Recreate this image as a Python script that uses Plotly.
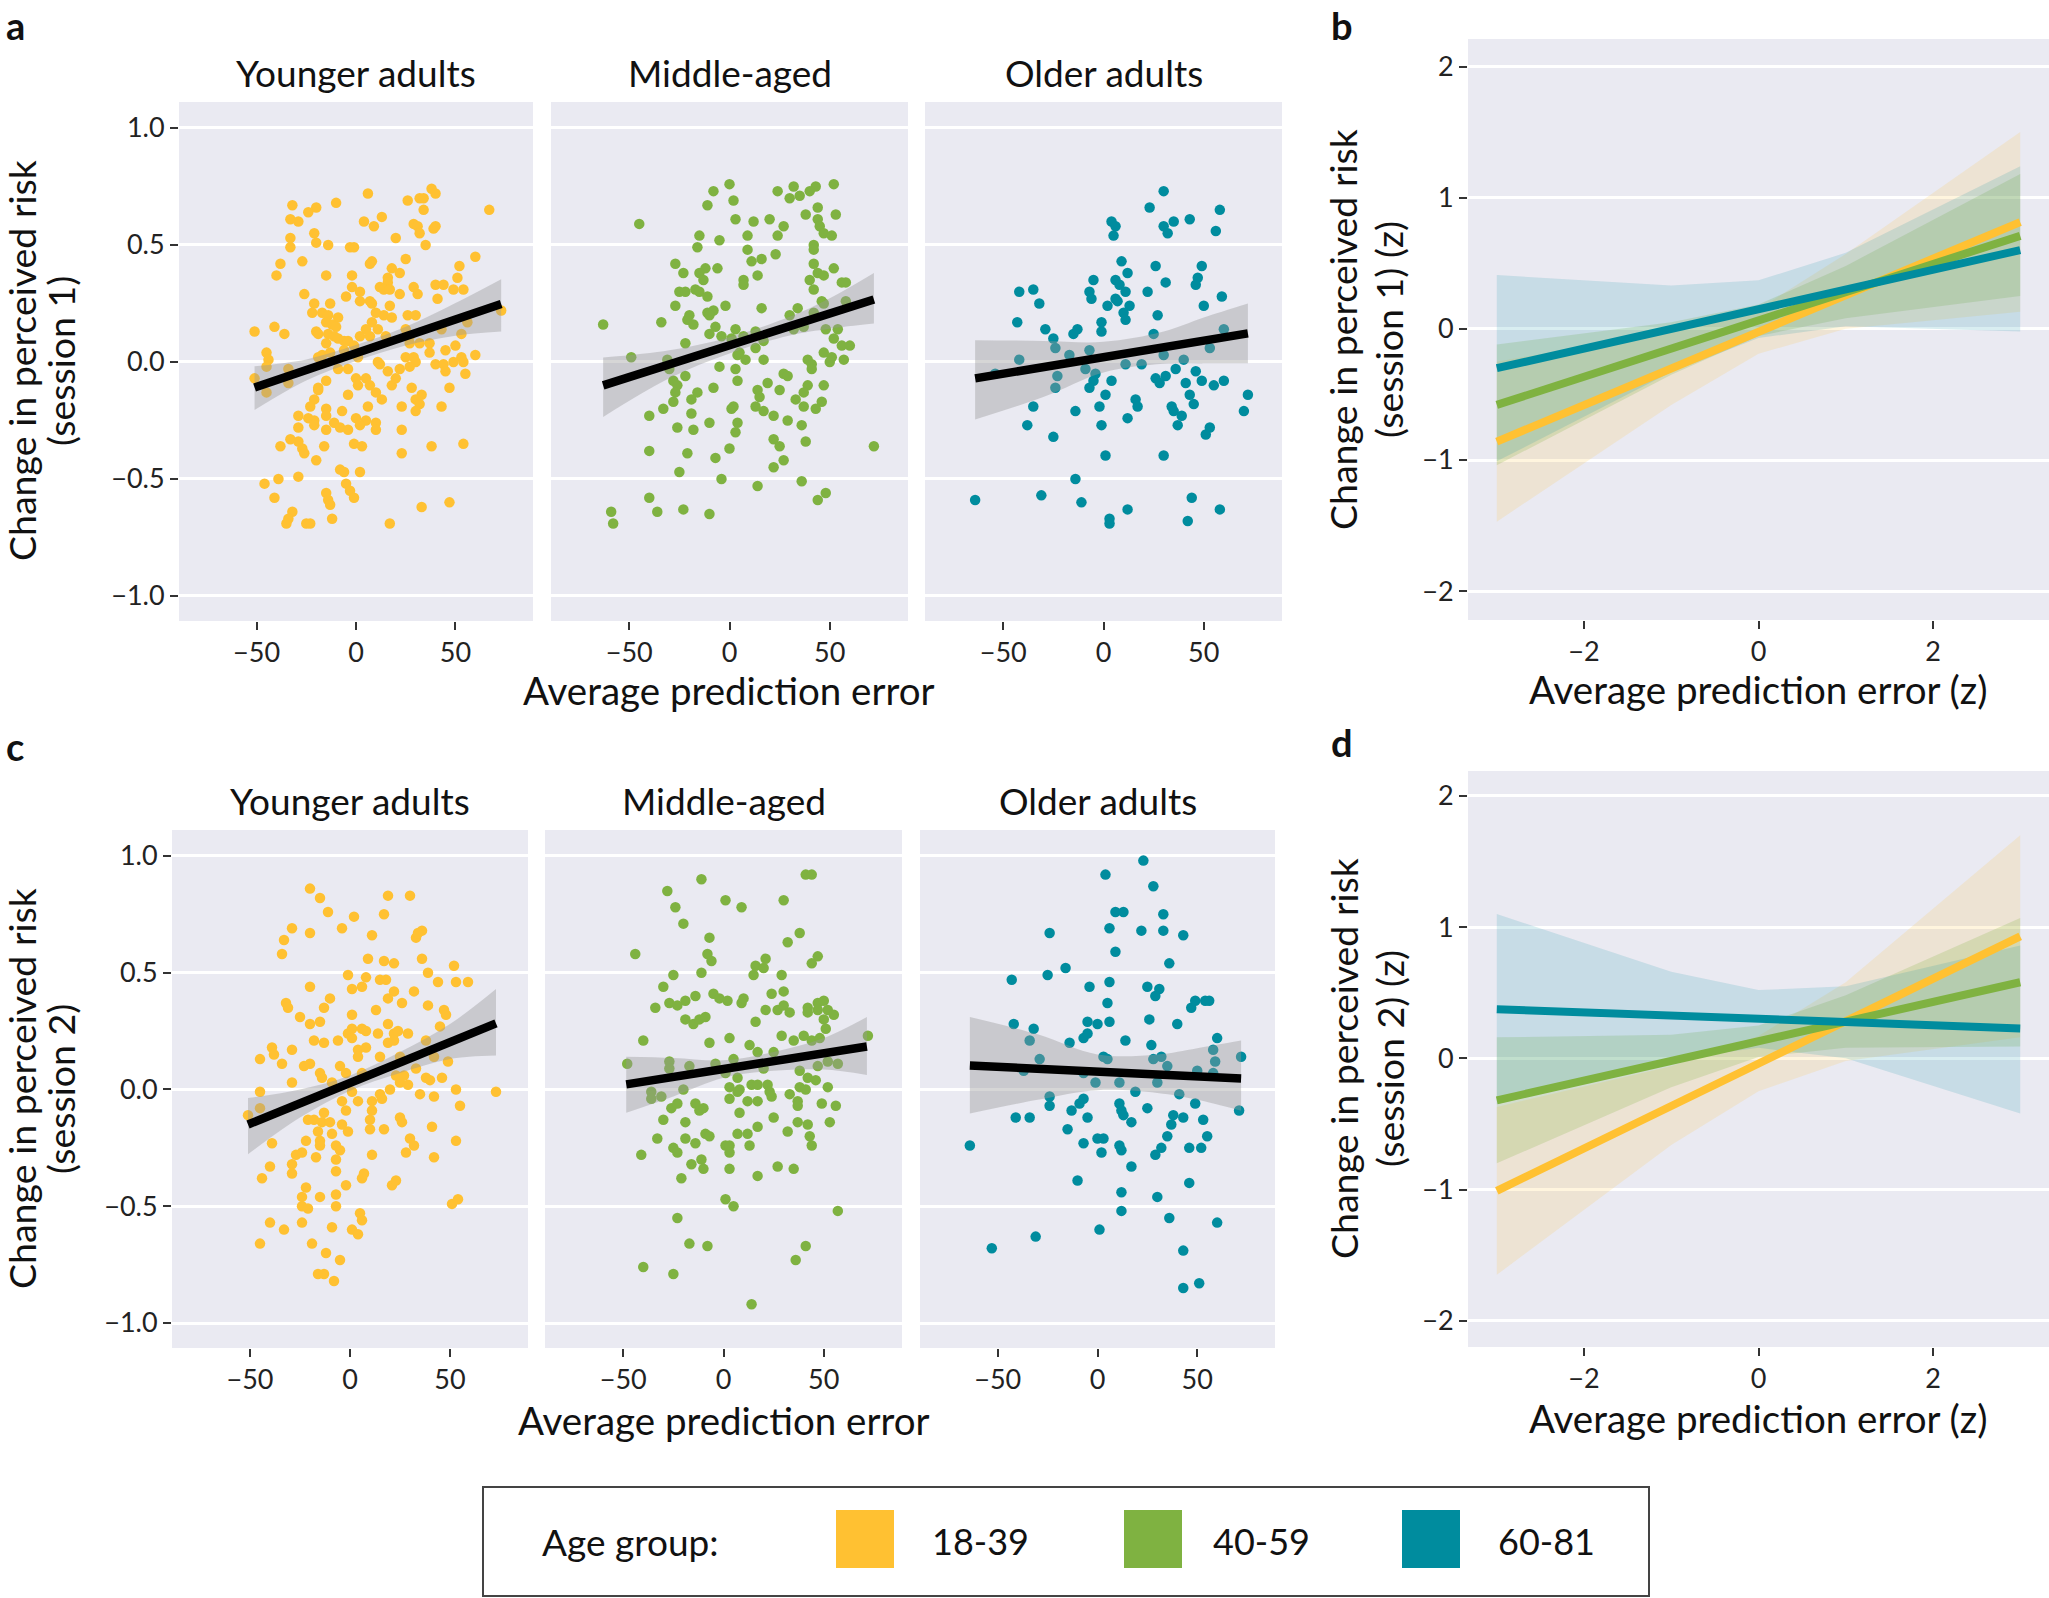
import plotly.graph_objects as go

FONT = "Lato, 'Open Sans', sans-serif"
YELLOW = "#FFC132"
GREEN = "#7FB241"
TEAL = "#008C9E"
BG = "#EAEAF2"
W, H = 2049, 1598

# ---------------- data ----------------
age_groups = ["18-39", "40-59", "60-81"]
panel_titles = ["Younger adults", "Middle-aged", "Older adults"]
pe_ticks = [-50, 0, 50]
risk_ticks = [-1.0, -0.5, 0.0, 0.5, 1.0]
z_ticks = [-2, 0, 2]
zy_ticks = [-2, -1, 0, 1, 2]

# session 1, younger adults (average prediction error, change in perceived risk)
s1_young_pts = [(38,0.74),(40,0.72),(6,0.72),(32,0.70),(34,0.70),(26,0.69),(-10,0.68),(-32,0.67),(-20,0.66),(-24,0.64),
    (67,0.65),(34,0.65),(13,0.62),(4,0.60),(-33,0.61),(-29,0.60),(9,0.58),(29,0.59),(31,0.58),(40,0.58),
    (39,0.57),(32,0.55),(-21,0.55),(20,0.53),(-33,0.53),(-20,0.51),(-33,0.49),(-14,0.50),(-3,0.49),(-1,0.49),
    (35,0.50),(60,0.45),(25,0.44),(-38,0.42),(-27,0.43),(8,0.43),(7,0.42),(52,0.41),(18,0.40),(22,0.38),
    (-40,0.37),(-15,0.37),(-2,0.37),(51,0.36),(16,0.36),(16,0.34),(-2,0.32),(12,0.32),(29,0.32),(14,0.31),
    (17,0.31),(40,0.33),(44,0.33),(49,0.31),(54,0.31),(-26,0.29),(2,0.30),(-5,0.28),(22,0.29),(31,0.29),
    (41,0.27),(-21,0.25),(-13,0.25),(2,0.26),(7,0.26),(8,0.25),(17,0.24),(-22,0.21),(-17,0.21),(-14,0.20),
    (-9,0.19),(10,0.21),(14,0.20),(18,0.19),(26,0.20),(30,0.20),(8,0.17),(-15,0.17),(-12,0.16),(-10,0.15),
    (5,0.14),(11,0.14),(25,0.14),(-51,0.13),(-41,0.15),(-36,0.12),(-20,0.13),(-19,0.12),(-14,0.12),(-11,0.11),
    (-9,0.10),(-6,0.09),(2,0.11),(7,0.11),(15,0.11),(27,0.11),(56,0.17),(53,0.12),(43,0.14),(-15,0.08),
    (-4,0.09),(-1,0.07),(27,0.08),(32,0.08),(37,0.08),(50,0.07),(45,0.05),(-45,0.04),(-44,0.01),(-19,0.02),
    (-17,0.03),(-13,0.04),(-6,0.05),(1,0.02),(11,0.00),(25,0.02),(29,0.02),(30,0.00),(37,0.04),(53,0.02),
    (60,0.03),(49,0.00),(54,0.00),(-45,-0.02),(-34,-0.03),(-9,-0.03),(-4,-0.03),(12,-0.01),(22,-0.03),(27,-0.02),
    (40,-0.01),(44,-0.01),(45,-0.04),(55,-0.05),(-51,-0.07),(-34,-0.09),(-15,-0.08),(-19,-0.11),(0,-0.07),(5,-0.07),
    (16,-0.04),(18,-0.10),(20,-0.07),(-45,-0.13),(-19,-0.12),(1,-0.10),(7,-0.10),(10,-0.13),(28,-0.11),(33,-0.14),
    (47,-0.11),(-4,-0.14),(13,-0.16),(-21,-0.16),(-23,-0.19),(6,-0.19),(23,-0.19),(30,-0.16),(32,-0.18),(43,-0.19),
    (-15,-0.20),(-7,-0.21),(-15,-0.23),(30,-0.21),(-29,-0.23),(-24,-0.24),(-21,-0.25),(0,-0.24),(5,-0.25),(10,-0.26),
    (-29,-0.28),(-21,-0.27),(-15,-0.29),(-11,-0.26),(-8,-0.28),(-4,-0.29),(2,-0.27),(10,-0.29),(23,-0.29),(-33,-0.33),
    (-29,-0.34),(-38,-0.36),(-27,-0.37),(-26,-0.39),(-16,-0.36),(-1,-0.35),(3,-0.36),(38,-0.36),(54,-0.35),(23,-0.39),
    (-20,-0.42),(-8,-0.46),(-6,-0.47),(2,-0.47),(-39,-0.50),(-29,-0.49),(-46,-0.52),(-5,-0.52),(-3,-0.55),(-1,-0.58),
    (-15,-0.56),(-14,-0.59),(-13,-0.61),(-41,-0.58),(33,-0.62),(47,-0.60),(-32,-0.64),(-34,-0.67),(-35,-0.69),(-25,-0.69),
    (-23,-0.69),(-12,-0.67),(17,-0.69),(73,0.22)]

s1_middle_pts = [(0,0.76),(52,0.76),(-8,0.73),(2,0.69),(32,0.75),(43,0.75),(40,0.73),(24,0.73),(30,0.70),(35,0.71),
    (-11,0.67),(-45,0.59),(44,0.66),(38,0.63),(53,0.63),(3,0.61),(12,0.60),(20,0.61),(44,0.61),(45,0.58),
    (27,0.58),(47,0.55),(51,0.54),(24,0.54),(9,0.54),(-15,0.54),(-5,0.52),(-16,0.49),(42,0.50),(42,0.48),
    (9,0.48),(23,0.46),(11,0.43),(16,0.44),(-27,0.42),(42,0.42),(52,0.40),(-12,0.40),(-6,0.40),(-15,0.38),
    (-23,0.38),(44,0.38),(47,0.37),(14,0.37),(-13,0.35),(7,0.35),(7,0.33),(40,0.35),(56,0.34),(58,0.34),
    (-25,0.30),(-22,0.30),(-17,0.31),(-15,0.30),(-11,0.28),(42,0.31),(-27,0.24),(-2,0.24),(16,0.23),(34,0.23),
    (46,0.26),(47,0.25),(58,0.26),(-63,0.16),(-34,0.17),(-20,0.20),(-21,0.18),(-18,0.16),(-11,0.21),(-8,0.22),
    (-10,0.20),(-7,0.15),(-10,0.12),(-4,0.11),(3,0.14),(13,0.13),(30,0.20),(32,0.14),(37,0.15),(42,0.21),
    (48,0.14),(54,0.14),(52,0.10),(-22,0.08),(17,0.09),(13,0.06),(56,0.07),(60,0.07),(-49,0.02),(-31,0.01),
    (4,0.03),(8,0.01),(17,0.01),(39,0.01),(41,-0.01),(47,0.04),(51,0.02),(57,0.01),(50,0.00),(-30,-0.03),
    (-5,-0.02),(3,-0.03),(41,-0.03),(-22,-0.06),(-28,-0.08),(-26,-0.10),(4,-0.08),(19,-0.09),(27,-0.05),(29,-0.06),
    (39,-0.10),(47,-0.10),(-27,-0.13),(-8,-0.11),(-16,-0.13),(14,-0.12),(25,-0.12),(37,-0.13),(-28,-0.17),(-19,-0.16),
    (15,-0.15),(33,-0.16),(46,-0.17),(37,-0.19),(-40,-0.23),(-33,-0.20),(-19,-0.22),(1,-0.20),(2,-0.19),(13,-0.19),
    (17,-0.21),(22,-0.23),(43,-0.20),(-26,-0.28),(-18,-0.29),(-10,-0.26),(4,-0.26),(3,-0.30),(29,-0.25),(36,-0.27),
    (-40,-0.38),(-21,-0.39),(-7,-0.41),(0,-0.37),(22,-0.33),(25,-0.36),(38,-0.34),(72,-0.36),(-25,-0.47),(-4,-0.50),
    (27,-0.42),(22,-0.45),(14,-0.53),(36,-0.51),(-40,-0.58),(44,-0.59),(48,-0.56),(-59,-0.64),(-36,-0.64),(-23,-0.63),
    (-10,-0.65),(-58,-0.69),(5,0.04),(7,0.11),(1,0.10)]

s1_older_pts = [(30,0.73),(23,0.66),(58,0.65),(4,0.60),(6,0.58),(5,0.54),(30,0.58),(35,0.60),(32,0.55),(43,0.61),
    (56,0.56),(9,0.43),(12,0.38),(26,0.41),(49,0.41),(-5,0.35),(6,0.35),(8,0.33),(31,0.34),(47,0.36),
    (46,0.33),(-42,0.30),(-35,0.31),(-7,0.30),(-6,0.27),(11,0.30),(22,0.30),(6,0.27),(7,0.26),(2,0.24),
    (13,0.24),(10,0.21),(11,0.18),(59,0.28),(50,0.24),(-32,0.25),(27,0.20),(-43,0.17),(-29,0.14),(-25,0.10),
    (-24,0.06),(-13,0.14),(-15,0.12),(-1,0.17),(-1,0.13),(25,0.12),(60,0.14),(53,0.06),(-17,0.03),(-7,0.05),
    (-42,0.01),(-54,-0.05),(30,0.03),(40,0.01),(19,-0.01),(11,-0.01),(-9,-0.03),(-23,-0.06),(-24,-0.11),(-4,-0.05),
    (-5,-0.08),(-7,-0.11),(4,-0.08),(36,-0.03),(46,-0.04),(26,-0.07),(28,-0.09),(31,-0.06),(41,-0.09),(49,-0.08),
    (55,-0.10),(60,-0.08),(72,-0.14),(1,-0.14),(16,-0.16),(17,-0.19),(43,-0.14),(45,-0.18),(-35,-0.19),(-2,-0.19),
    (-14,-0.21),(34,-0.19),(35,-0.21),(39,-0.23),(70,-0.21),(12,-0.24),(-38,-0.27),(-1,-0.27),(37,-0.27),(53,-0.28),
    (51,-0.31),(-25,-0.32),(1,-0.40),(30,-0.40),(-14,-0.50),(-64,-0.59),(-31,-0.57),(-11,-0.60),(12,-0.63),(44,-0.58),
    (58,-0.63),(3,-0.67),(3,-0.69),(42,-0.68)]

s2_young_pts = [(-20,0.86),(-15,0.82),(19,0.83),(30,0.83),(-11,0.76),(2,0.74),(17,0.75),(-29,0.69),(-20,0.67),(-4,0.69),
    (11,0.66),(33,0.65),(36,0.68),(34,0.67),(-33,0.64),(-34,0.58),(9,0.56),(17,0.55),(22,0.54),(36,0.56),
    (52,0.53),(39,0.50),(-1,0.49),(8,0.48),(15,0.47),(18,0.47),(44,0.46),(53,0.46),(59,0.46),(-20,0.44),
    (1,0.43),(6,0.44),(22,0.42),(19,0.39),(32,0.42),(-10,0.39),(-32,0.37),(-31,0.35),(-13,0.35),(26,0.37),
    (39,0.36),(47,0.34),(48,0.32),(13,0.34),(1,0.32),(-25,0.31),(-20,0.28),(-15,0.29),(19,0.28),(45,0.27),
    (-1,0.24),(1,0.26),(1,0.22),(6,0.26),(8,0.25),(14,0.24),(22,0.24),(24,0.25),(29,0.24),(-18,0.21),
    (-13,0.20),(-6,0.21),(19,0.20),(22,0.21),(38,0.21),(-39,0.18),(-29,0.17),(4,0.17),(8,0.18),(-38,0.15),
    (4,0.14),(15,0.14),(-45,0.13),(-34,0.11),(-23,0.10),(-20,0.11),(-5,0.10),(25,0.14),(42,0.14),(49,0.12),
    (-15,0.07),(-14,0.05),(-2,0.07),(6,0.07),(23,0.06),(27,0.06),(33,0.09),(25,0.03),(29,0.02),(38,0.05),
    (40,0.04),(46,0.05),(-29,0.03),(-9,0.03),(-45,-0.01),(1,-0.01),(53,0.00),(73,-0.01),(20,0.00),(15,-0.02),
    (16,-0.04),(35,-0.02),(42,-0.03),(-45,-0.08),(-51,-0.11),(-4,-0.05),(4,-0.05),(11,-0.05),(-2,-0.09),(11,-0.09),
    (-13,-0.10),(55,-0.07),(-21,-0.13),(-18,-0.13),(10,-0.13),(25,-0.12),(26,-0.14),(-14,-0.14),(-10,-0.14),(-4,-0.15),
    (-1,-0.18),(10,-0.17),(17,-0.17),(41,-0.16),(-16,-0.18),(-9,-0.19),(-39,-0.23),(-22,-0.22),(-15,-0.22),(-15,-0.24),
    (-7,-0.24),(-5,-0.26),(30,-0.21),(32,-0.24),(53,-0.22),(-27,-0.28),(-24,-0.27),(-17,-0.29),(11,-0.28),(28,-0.27),
    (42,-0.29),(-29,-0.32),(-40,-0.33),(-7,-0.30),(-29,-0.36),(-44,-0.38),(-7,-0.35),(6,-0.38),(7,-0.36),(-2,-0.41),
    (-22,-0.42),(21,-0.41),(23,-0.39),(-24,-0.46),(-15,-0.46),(-7,-0.45),(-24,-0.50),(-21,-0.51),(-7,-0.50),(51,-0.49),
    (54,-0.47),(5,-0.53),(6,-0.56),(-40,-0.57),(-33,-0.60),(-24,-0.57),(-9,-0.59),(1,-0.60),(4,-0.62),(-45,-0.66),
    (-19,-0.66),(-12,-0.70),(-5,-0.73),(-16,-0.79),(-13,-0.79),(-8,-0.82)]

s2_middle_pts = [(-11,0.90),(41,0.92),(44,0.92),(-28,0.85),(1,0.81),(9,0.78),(30,0.81),(-24,0.78),(-20,0.71),(-7,0.65),
    (32,0.63),(38,0.67),(-44,0.58),(-8,0.58),(-6,0.55),(21,0.56),(16,0.53),(20,0.52),(47,0.57),(44,0.54),
    (-25,0.49),(-11,0.50),(15,0.49),(29,0.49),(-30,0.44),(24,0.41),(30,0.42),(-14,0.40),(-19,0.38),(-5,0.41),
    (-2,0.39),(2,0.38),(9,0.37),(10,0.39),(-34,0.35),(-27,0.37),(-23,0.36),(21,0.34),(27,0.34),(30,0.36),
    (33,0.33),(42,0.35),(42,0.33),(47,0.37),(50,0.38),(47,0.34),(52,0.34),(55,0.32),(-19,0.30),(-15,0.28),
    (-12,0.30),(-9,0.31),(16,0.29),(50,0.30),(51,0.26),(-40,0.21),(-7,0.20),(3,0.22),(13,0.19),(29,0.23),
    (35,0.21),(40,0.23),(44,0.21),(48,0.22),(72,0.23),(17,0.16),(25,0.16),(-48,0.11),(-27,0.12),(-27,0.09),
    (-17,0.10),(-4,0.11),(5,0.13),(20,0.09),(47,0.10),(52,0.12),(57,0.11),(38,0.08),(1,0.07),(7,0.05),
    (42,0.05),(46,0.04),(-36,-0.01),(-36,-0.04),(-31,-0.03),(-20,0.00),(3,0.01),(8,0.00),(14,0.02),(17,0.02),
    (22,0.02),(23,-0.01),(24,-0.03),(7,-0.01),(38,0.01),(41,0.00),(52,0.01),(33,-0.02),(3,-0.04),(12,-0.05),
    (17,-0.05),(37,-0.05),(37,-0.07),(49,-0.06),(56,-0.07),(-26,-0.08),(-23,-0.06),(-14,-0.06),(-12,-0.09),(-10,-0.08),
    (8,-0.10),(25,-0.12),(-30,-0.13),(-19,-0.14),(37,-0.14),(42,-0.15),(53,-0.14),(17,-0.16),(32,-0.18),(7,-0.19),
    (12,-0.19),(-33,-0.21),(-19,-0.21),(-14,-0.23),(-9,-0.19),(-7,-0.20),(43,-0.20),(44,-0.24),(1,-0.24),(3,-0.24),
    (13,-0.24),(-25,-0.25),(-23,-0.27),(3,-0.27),(-41,-0.28),(-11,-0.30),(-16,-0.32),(-10,-0.34),(3,-0.34),(17,-0.37),
    (27,-0.33),(35,-0.34),(-21,-0.38),(1,-0.47),(5,-0.50),(57,-0.52),(-23,-0.55),(-17,-0.66),(-8,-0.67),(41,-0.67),
    (36,-0.73),(-40,-0.76),(-25,-0.79),(14,-0.92)]

s2_older_pts = [(23,0.98),(4,0.92),(28,0.87),(9,0.76),(13,0.76),(33,0.75),(-24,0.67),(6,0.69),(22,0.68),(33,0.68),
    (43,0.66),(9,0.59),(36,0.54),(-16,0.52),(-43,0.47),(-25,0.49),(6,0.46),(-4,0.44),(25,0.44),(31,0.43),
    (29,0.40),(5,0.37),(47,0.35),(49,0.38),(54,0.38),(56,0.38),(-42,0.28),(-32,0.26),(-5,0.29),(0,0.28),
    (6,0.29),(26,0.30),(40,0.28),(-34,0.21),(-14,0.20),(-7,0.22),(-5,0.24),(14,0.21),(27,0.19),(60,0.22),
    (-29,0.13),(3,0.14),(5,0.13),(28,0.13),(32,0.14),(58,0.17),(59,0.12),(72,0.14),(35,0.10),(-37,0.08),
    (-7,0.07),(50,0.08),(58,0.07),(-1,0.03),(11,0.03),(30,0.03),(19,-0.01),(41,-0.02),(-24,-0.03),(-24,-0.07),
    (-9,-0.06),(-7,-0.04),(-13,-0.09),(11,-0.06),(12,-0.09),(13,-0.11),(25,-0.08),(49,-0.06),(71,-0.09),(-41,-0.12),
    (-34,-0.12),(-5,-0.12),(17,-0.14),(38,-0.11),(43,-0.12),(53,-0.13),(37,-0.15),(-15,-0.17),(55,-0.20),(35,-0.20),
    (-64,-0.24),(-7,-0.23),(0,-0.21),(3,-0.21),(2,-0.27),(11,-0.24),(12,-0.26),(32,-0.25),(29,-0.28),(46,-0.25),
    (52,-0.25),(17,-0.33),(-10,-0.39),(46,-0.40),(12,-0.44),(30,-0.46),(12,-0.52),(36,-0.55),(60,-0.57),(1,-0.60),
    (-31,-0.63),(-53,-0.68),(43,-0.69),(43,-0.85),(51,-0.83)]

# linear fits (end points) and 95% CI ribbons
s1_young_fit_x, s1_young_fit_y = [-51, 73], [-0.109, 0.248]
s1_young_band_x = [-51, -25, 0, 25, 50, 73]
s1_young_band_lo = [-0.205, -0.079, 0.004, 0.070, 0.112, 0.130]
s1_young_band_hi = [-0.018, 0.011, 0.072, 0.150, 0.252, 0.354]

s1_middle_fit_x, s1_middle_fit_y = [-63, 72], [-0.100, 0.267]
s1_middle_band_x = [-63, -30, 0, 30, 50, 72]
s1_middle_band_lo = [-0.235, -0.070, 0.036, 0.113, 0.142, 0.164]
s1_middle_band_hi = [0.019, 0.050, 0.106, 0.193, 0.272, 0.380]

s1_older_fit_x, s1_older_fit_y = [-64, 72], [-0.070, 0.122]
s1_older_band_x = [-64, -30, 0, 30, 50, 72]
s1_older_band_lo = [-0.246, -0.150, -0.045, -0.008, -0.006, -0.006]
s1_older_band_hi = [0.093, 0.090, 0.086, 0.130, 0.190, 0.250]

s2_young_fit_x, s2_young_fit_y = [-51, 73], [-0.150, 0.283]
s2_young_band_x = [-51, -25, 0, 25, 50, 73]
s2_young_band_lo = [-0.277, -0.120, -0.005, 0.070, 0.130, 0.145]
s2_young_band_hi = [-0.037, 0.000, 0.060, 0.160, 0.280, 0.430]

s2_middle_fit_x, s2_middle_fit_y = [-48.5, 71.5], [0.022, 0.184]
s2_middle_band_x = [-48.5, -25, 0, 25, 50, 71.5]
s2_middle_band_lo = [-0.100, -0.030, 0.050, 0.080, 0.085, 0.062]
s2_middle_band_hi = [0.140, 0.135, 0.125, 0.160, 0.220, 0.310]

s2_older_fit_x, s2_older_fit_y = [-64, 72], [0.103, 0.047]
s2_older_band_x = [-64, -30, 0, 30, 50, 72]
s2_older_band_lo = [-0.103, -0.044, -0.003, -0.015, -0.044, -0.091]
s2_older_band_hi = [0.310, 0.236, 0.150, 0.150, 0.177, 0.210]

# model predictions (z-scored) for panels b and d
z_fit_x = [-3, 3]
z_band_x = [-3, -1, 0, 1, 3]

b_young_fit = [-0.86, 0.814]
b_young_lo = [-1.47, -0.58, -0.19, 0.00, 0.13]
b_young_hi = [-0.25, -0.02, 0.15, 0.57, 1.50]
b_middle_fit = [-0.58, 0.709]
b_middle_lo = [-1.04, -0.35, -0.055, 0.08, 0.25]
b_middle_hi = [-0.12, 0.05, 0.185, 0.48, 1.18]
b_older_fit = [-0.30, 0.60]
b_older_lo = [-1.01, -0.33, -0.07, 0.02, -0.02]
b_older_hi = [0.41, 0.33, 0.37, 0.58, 1.24]

d_young_fit = [-1.01, 0.93]
d_young_lo = [-1.65, -0.66, -0.25, -0.02, 0.16]
d_young_hi = [-0.37, -0.06, 0.17, 0.58, 1.70]
d_middle_fit = [-0.32, 0.58]
d_middle_lo = [-0.80, -0.22, 0.01, 0.08, 0.09]
d_middle_hi = [0.16, 0.18, 0.25, 0.48, 1.07]
d_older_fit = [0.375, 0.228]
d_older_lo = [-0.35, -0.01, 0.08, 0.00, -0.42]
d_older_hi = [1.10, 0.66, 0.52, 0.55, 0.86]

# ---------------- layout helpers (pixel boxes) ----------------
def xd(l, r):
    return [l / W, r / W]

def yd(t, b):
    return [1 - b / H, 1 - t / H]

def px(x):
    return x / W

def py(y):
    return 1 - y / H

fig = go.Figure()

colors = [YELLOW, GREEN, TEAL]
scatter_panels = [
    (1, s1_young_pts, s1_young_fit_x, s1_young_fit_y, s1_young_band_x, s1_young_band_lo, s1_young_band_hi, YELLOW),
    (2, s1_middle_pts, s1_middle_fit_x, s1_middle_fit_y, s1_middle_band_x, s1_middle_band_lo, s1_middle_band_hi, GREEN),
    (3, s1_older_pts, s1_older_fit_x, s1_older_fit_y, s1_older_band_x, s1_older_band_lo, s1_older_band_hi, TEAL),
    (5, s2_young_pts, s2_young_fit_x, s2_young_fit_y, s2_young_band_x, s2_young_band_lo, s2_young_band_hi, YELLOW),
    (6, s2_middle_pts, s2_middle_fit_x, s2_middle_fit_y, s2_middle_band_x, s2_middle_band_lo, s2_middle_band_hi, GREEN),
    (7, s2_older_pts, s2_older_fit_x, s2_older_fit_y, s2_older_band_x, s2_older_band_lo, s2_older_band_hi, TEAL),
]

def ax(n):
    return ("x" if n == 1 else f"x{n}"), ("y" if n == 1 else f"y{n}")

for n, pts, fx, fy, bx, blo, bhi, col in scatter_panels:
    xa, ya = ax(n)
    xs = [p[0] for p in pts]
    ys = [p[1] for p in pts]
    fig.add_trace(go.Scatter(x=xs, y=ys, mode="markers", xaxis=xa, yaxis=ya,
                             marker=dict(color=col, size=10.5, line=dict(width=0)),
                             showlegend=False, hoverinfo="skip"))
    fig.add_trace(go.Scatter(x=bx, y=blo, mode="lines", xaxis=xa, yaxis=ya,
                             line=dict(width=0, shape="spline"), showlegend=False, hoverinfo="skip"))
    fig.add_trace(go.Scatter(x=bx, y=bhi, mode="lines", xaxis=xa, yaxis=ya, fill="tonexty",
                             fillcolor="rgba(153,153,153,0.4)",
                             line=dict(width=0, shape="spline"), showlegend=False, hoverinfo="skip"))
    fig.add_trace(go.Scatter(x=fx, y=fy, mode="lines", xaxis=xa, yaxis=ya,
                             line=dict(color="black", width=8.5), showlegend=False, hoverinfo="skip"))

band_rgba = ["rgba(255,193,50,0.16)", "rgba(127,178,65,0.22)", "rgba(0,140,158,0.15)"]
z_panels = [
    (4, [(b_young_fit, b_young_lo, b_young_hi), (b_middle_fit, b_middle_lo, b_middle_hi), (b_older_fit, b_older_lo, b_older_hi)]),
    (8, [(d_young_fit, d_young_lo, d_young_hi), (d_middle_fit, d_middle_lo, d_middle_hi), (d_older_fit, d_older_lo, d_older_hi)]),
]
for n, groups in z_panels:
    xa, ya = ax(n)
    for (fit, lo, hi), rgba in zip(groups, band_rgba):
        fig.add_trace(go.Scatter(x=z_band_x, y=lo, mode="lines", xaxis=xa, yaxis=ya,
                                 line=dict(width=0), showlegend=False, hoverinfo="skip"))
        fig.add_trace(go.Scatter(x=z_band_x, y=hi, mode="lines", xaxis=xa, yaxis=ya, fill="tonexty",
                                 fillcolor=rgba, line=dict(width=0), showlegend=False, hoverinfo="skip"))
    for (fit, lo, hi), col in zip(groups, colors):
        fig.add_trace(go.Scatter(x=z_fit_x, y=fit, mode="lines", xaxis=xa, yaxis=ya,
                                 line=dict(color=col, width=8), showlegend=False, hoverinfo="skip"))

# ---------------- axes ----------------
TICKFONT = dict(family=FONT, size=27, color="#222222")
boxes = {
    1: (179, 533, 102, 621), 2: (551, 908, 102, 621), 3: (925, 1282, 102, 621),
    4: (1468, 2049, 39, 620),
    5: (172, 528, 830, 1348), 6: (545, 902, 830, 1348), 7: (920, 1275, 830, 1348),
    8: (1468, 2049, 771, 1347),
}
layout_axes = {}
for n, (l, r, t, b) in boxes.items():
    xa_name = "xaxis" if n == 1 else f"xaxis{n}"
    ya_name = "yaxis" if n == 1 else f"yaxis{n}"
    xa, ya = ax(n)
    zpanel = n in (4, 8)
    layout_axes[xa_name] = dict(
        domain=xd(l, r), anchor=ya,
        range=[-3.33, 3.33] if zpanel else [-89, 89],
        tickvals=z_ticks if zpanel else pe_ticks,
        ticks="outside", ticklen=8, tickwidth=2, tickcolor="#333333",
        showgrid=False, zeroline=False, showline=False, tickfont=TICKFONT,
    )
    first = n in (1, 4, 5, 8)
    if zpanel:
        yr = [-2.22, 2.21] if n == 4 else [-2.20, 2.19]
        yt = zy_ticks
        fmt = "d"
    else:
        yr = [-1.107, 1.111]
        yt = risk_ticks
        fmt = ".1f"
    layout_axes[ya_name] = dict(
        domain=yd(t, b), anchor=xa, range=yr, tickvals=yt, tickformat=fmt,
        showgrid=True, gridcolor="white", gridwidth=3, zeroline=False, showline=False,
        ticks="outside" if first else "", ticklen=8, tickwidth=2, tickcolor="#333333",
        showticklabels=first, tickfont=TICKFONT,
    )

# ---------------- text ----------------
ann = []
def text(x, y, s, size, xanchor="center", yanchor="middle", angle=0, bold=False):
    ann.append(dict(x=px(x), y=py(y), xref="paper", yref="paper", text=(f"<b>{s}</b>" if bold else s),
                    showarrow=False, xanchor=xanchor, yanchor=yanchor, textangle=angle,
                    font=dict(family=FONT, size=size, color="#111111")))

text(4, 0, "a", 38, xanchor="left", yanchor="top", bold=True)
text(1329, 0, "b", 38, xanchor="left", yanchor="top", bold=True)
text(4, 746, "c", 38, xanchor="left", bold=True)
text(1329, 742, "d", 38, xanchor="left", bold=True)

for title, cx in zip(panel_titles, [356, 729.5, 1103.5]):
    text(cx, 72, title, 37)
for title, cx in zip(panel_titles, [350, 723.5, 1097.5]):
    text(cx, 800, title, 37)

text(729, 690, "Average prediction error", 38.5)
text(724, 1420, "Average prediction error", 38.5)
text(1758, 689, "Average prediction error (z)", 38.5)
text(1758, 1418, "Average prediction error (z)", 38.5)

text(21, 361, "Change in perceived risk", 37.5, angle=-90)
text(60, 361, "(session 1)", 37.5, angle=-90)
text(21, 1089, "Change in perceived risk", 37.5, angle=-90)
text(60, 1089, "(session 2)", 37.5, angle=-90)
text(1343, 330, "Change in perceived risk", 37.5, angle=-90)
text(1389, 330, "(session 1) (z)", 37.5, angle=-90)
text(1343, 1059, "Change in perceived risk", 37.5, angle=-90)
text(1389, 1059, "(session 2) (z)", 37.5, angle=-90)

# ---------------- legend ----------------
shapes = [dict(type="rect", xref="paper", yref="paper", x0=px(483), x1=px(1649), y0=py(1596), y1=py(1487),
               line=dict(color="#444444", width=2), fillcolor="white", layer="above")]
text(540, 1541, "Age group:", 37, xanchor="left")
for (sx, tx), col, lab in zip([(836, 930), (1124, 1211), (1402, 1496)], colors, age_groups):
    shapes.append(dict(type="rect", xref="paper", yref="paper", x0=px(sx), x1=px(sx + 58),
                       y0=py(1568), y1=py(1510), line=dict(width=0), fillcolor=col, layer="above"))
    text(tx, 1541, lab, 36, xanchor="left")

fig.update_layout(
    width=W, height=H, margin=dict(l=0, r=0, t=0, b=0),
    paper_bgcolor="white", plot_bgcolor=BG, showlegend=False,
    annotations=ann, shapes=shapes, font=dict(family=FONT),
    **layout_axes,
)

fig.write_html("out.html", config={"displayModeBar": False, "staticPlot": True},
               post_script="document.body.style.margin='0px';document.body.style.overflow='hidden';")
